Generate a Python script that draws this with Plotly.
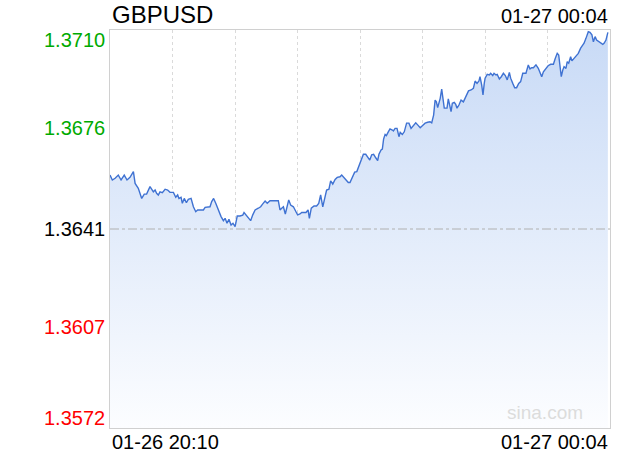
import plotly.graph_objects as go

SYMBOL = "GBPUSD"
START_LABEL = "01-26 20:10"
END_LABEL = "01-27 00:04"
PREV_CLOSE = 1.3641
Y_MIN, Y_MAX = 1.3572, 1.3710
X_MAX = 235  # minutes shown in the window
Y_TICKS = [1.3710, 1.3676, 1.3641, 1.3607, 1.3572]

# minutes after 20:10
minutes = [
    0, 1.1, 2.4, 3.9, 5.2, 6.7, 8.0, 9.4, 11.0, 11.8,
    13.3, 14.9, 16.1, 17.2, 18.8, 20.4, 21.2, 21.9, 22.7, 23.5,
    24.6, 25.9, 27.1, 28.2, 29.8, 30.9, 31.8, 32.4, 33.4, 34.0,
    34.9, 35.9, 36.8, 38.1, 39.2, 40.3, 41.2, 43.9, 44.7, 47.0,
    47.8, 48.7, 49.7, 50.9, 52.2, 53.3, 54.1, 55.0, 55.9, 56.9,
    57.8, 58.8,
    59.2, 59.8, 61.1, 62.4, 63.0, 64.2, 65.5, 66.1, 67.1, 68.2,
    69.7, 70.8, 71.8, 72.9, 73.9, 75.2, 79.1, 79.9, 80.7, 81.5,
    82.4, 83.3, 84.0, 84.9, 86.2, 87.4, 88.2, 89.3, 90.1, 92.1,
    93.1, 93.7, 94.6, 95.9, 97.1, 98.1, 99.0, 100.0, 101.1, 101.8,
    102.9, 103.7, 104.7, 105.8, 106.8, 108.1, 108.9, 110.0, 110.9, 112.0,
    112.8, 114.1, 115.0, 116.0, 117.2,
    118.0, 119.1, 120.2, 121.1, 122.1, 123.0, 123.9, 124.9, 125.8, 126.4,
    127.4, 128.0, 128.6, 129.3, 129.9, 130.8, 131.6, 132.7, 133.2, 134.0,
    134.9, 135.8, 136.4, 137.4, 138.3, 139.4, 140.5, 141.5, 142.6, 143.7,
    144.6, 145.8, 146.8, 148.1, 149.3, 150.4, 151.2, 152.1, 152.8, 153.4,
    154.0, 154.6, 155.2, 155.9, 156.5, 157.1, 158.4, 159.0, 159.7, 160.3,
    160.9, 161.8, 162.5, 163.1, 164.0, 165.0, 166.1, 166.9, 167.8, 168.5,
    169.7, 170.8, 171.6, 172.5, 173.4, 173.9, 174.7, 175.3, 175.9,
    176.3, 177.3, 178.3, 178.9, 179.9, 180.5, 181.4, 182.0, 183.0, 183.9,
    184.9, 185.8, 186.7, 187.7, 188.3, 189.3, 190.2, 191.1, 192.1, 193.0,
    194.0, 195.5, 196.6, 197.4, 198.2, 199.0, 200.2, 201.3, 202.1, 202.9,
    203.7, 204.9, 205.9, 207.1, 208.4, 209.3, 210.2, 210.9, 211.5, 212.1,
    212.8, 213.4, 214.3, 214.9, 215.6, 216.5, 217.1, 218.1, 219.0, 220.1,
    221.2, 222.2, 222.8, 223.7, 224.8, 225.6, 226.5, 227.2, 228.0, 228.7,
    229.7, 230.6, 231.6, 232.2, 233.1, 234.0,
]

prices = [
    1.36597, 1.36580, 1.36586, 1.36597, 1.36580, 1.36597, 1.36580, 1.36589, 1.36609, 1.36568,
    1.36551, 1.36516, 1.36531, 1.36531, 1.36557, 1.36539, 1.36545, 1.36534, 1.36528, 1.36539,
    1.36536, 1.36548, 1.36545, 1.36537, 1.36537, 1.36520, 1.36528, 1.36516, 1.36520, 1.36499,
    1.36516, 1.36501, 1.36513, 1.36516, 1.36487, 1.36470, 1.36476, 1.36476, 1.36485, 1.36487,
    1.36505, 1.36516, 1.36499, 1.36476, 1.36453, 1.36439, 1.36447, 1.36430, 1.36444, 1.36424,
    1.36430, 1.36418,
    1.36430, 1.36455, 1.36455, 1.36458, 1.36467, 1.36455, 1.36444, 1.36439, 1.36459, 1.36476,
    1.36482, 1.36487, 1.36497, 1.36507, 1.36499, 1.36508, 1.36508, 1.36476, 1.36482, 1.36487,
    1.36462, 1.36487, 1.36511, 1.36493, 1.36487, 1.36470, 1.36459, 1.36462, 1.36467, 1.36467,
    1.36476, 1.36447, 1.36482, 1.36490, 1.36490, 1.36499, 1.36528, 1.36487, 1.36522, 1.36545,
    1.36548, 1.36577, 1.36566, 1.36582, 1.36589, 1.36591, 1.36597, 1.36589, 1.36580, 1.36571,
    1.36571, 1.36591, 1.36607, 1.36609, 1.36632,
    1.36641, 1.36669, 1.36669, 1.36657, 1.36649, 1.36667, 1.36669, 1.36657, 1.36647, 1.36669,
    1.36684, 1.36687, 1.36722, 1.36738, 1.36734, 1.36747, 1.36757, 1.36753, 1.36750, 1.36759,
    1.36759, 1.36730, 1.36745, 1.36738, 1.36747, 1.36777, 1.36777, 1.36759, 1.36768, 1.36778,
    1.36771, 1.36761, 1.36768, 1.36777, 1.36780, 1.36782, 1.36778, 1.36805, 1.36857, 1.36851,
    1.36831, 1.36846, 1.36863, 1.36895, 1.36863, 1.36829, 1.36829, 1.36861, 1.36838, 1.36817,
    1.36846, 1.36849, 1.36842, 1.36829, 1.36840, 1.36857, 1.36851, 1.36863, 1.36881, 1.36889,
    1.36892, 1.36898, 1.36923, 1.36915, 1.36923, 1.36938, 1.36909, 1.36875, 1.36915,
    1.36933, 1.36946, 1.36944, 1.36950, 1.36942, 1.36950, 1.36944, 1.36946, 1.36930, 1.36938,
    1.36950, 1.36942, 1.36927, 1.36953, 1.36933, 1.36915, 1.36900, 1.36900, 1.36915, 1.36921,
    1.36950, 1.36950, 1.36979, 1.36965, 1.36969, 1.36969, 1.36979, 1.36967, 1.36955, 1.36938,
    1.36955, 1.36967, 1.36976, 1.36981, 1.36981, 1.37002, 1.37019, 1.37013, 1.36973, 1.36938,
    1.36961, 1.36973, 1.36967, 1.36990, 1.36985, 1.37007, 1.36993, 1.37002, 1.37013, 1.37019,
    1.37037, 1.37048, 1.37054, 1.37071, 1.37094, 1.37092, 1.37083, 1.37059, 1.37077, 1.37065,
    1.37059, 1.37054, 1.37050, 1.37054, 1.37065, 1.37092,
]

FONT = "Liberation Sans, Arial, Helvetica, sans-serif"
LINE_COLOR = "#3f72d2"
UP_COLOR = "#00aa00"
DOWN_COLOR = "#ff0000"

fig = go.Figure()
fig.add_trace(go.Scatter(
    x=minutes, y=prices,
    mode="lines",
    line=dict(color=LINE_COLOR, width=1.4),
    fill="tozeroy",
    fillgradient=dict(
        type="vertical",
        start=Y_MIN, stop=Y_MAX,
        colorscale=[[0, "rgb(252,253,255)"], [1, "rgb(200,218,246)"]],
    ),
    hoverinfo="skip",
))

fig.add_hline(y=PREV_CLOSE, line=dict(color="#b0b0b0", width=1, dash="dashdot"))

# price labels on the left, coloured against previous close
for i, v in enumerate(Y_TICKS):
    if v > PREV_CLOSE:
        col = UP_COLOR
    elif v < PREV_CLOSE:
        col = DOWN_COLOR
    else:
        col = "#000000"
    if i == 0:
        anchor, shift = "top", 3
    elif i == len(Y_TICKS) - 1:
        anchor, shift = "bottom", -3
    else:
        anchor, shift = "middle", 0
    fig.add_annotation(
        text=f"{v:.4f}", x=0, xref="paper", y=v, yref="y",
        xanchor="right", yanchor=anchor, xshift=-3, yshift=shift, showarrow=False,
        font=dict(size=20, color=col, family=FONT),
    )

fig.add_annotation(text=SYMBOL, x=0, xref="paper", y=1, yref="paper",
                   xanchor="left", yanchor="middle", yshift=16, showarrow=False,
                   font=dict(size=24, color="#000000", family=FONT))
fig.add_annotation(text=END_LABEL, x=1, xref="paper", y=1, yref="paper",
                   xanchor="right", yanchor="middle", yshift=14, showarrow=False,
                   font=dict(size=20, color="#000000", family=FONT))
fig.add_annotation(text=START_LABEL, x=0, xref="paper", y=0, yref="paper",
                   xanchor="left", yanchor="middle", yshift=-14, showarrow=False,
                   font=dict(size=20, color="#000000", family=FONT))
fig.add_annotation(text=END_LABEL, x=1, xref="paper", y=0, yref="paper",
                   xanchor="right", yanchor="middle", yshift=-14, showarrow=False,
                   font=dict(size=20, color="#000000", family=FONT))
fig.add_annotation(text="sina.com", x=0.95, xref="paper", y=0.04, yref="paper",
                   xanchor="right", yanchor="middle", showarrow=False,
                   font=dict(size=19, color="#dcdcdc", family=FONT))

fig.update_layout(
    width=620, height=460,
    margin=dict(l=110, r=10, t=30, b=32),
    plot_bgcolor="white", paper_bgcolor="white",
    showlegend=False,
    hovermode=False,
    xaxis=dict(range=[0, X_MAX], tick0=0, dtick=X_MAX / 8, showticklabels=False,
               showgrid=True, gridcolor="#dadada", griddash="dot", gridwidth=1,
               zeroline=False, showline=True, mirror=True, linecolor="#d0d0d0", linewidth=1,
               ticks=""),
    yaxis=dict(range=[Y_MIN, Y_MAX], showticklabels=False, showgrid=False,
               zeroline=False, showline=True, mirror=True, linecolor="#d0d0d0", linewidth=1,
               ticks=""),
)

# drop the default 8px page margin so the 620x460 figure fills the window
fig.write_html("out.html", config={"displayModeBar": False},
               post_script="document.body.style.margin='0';")
